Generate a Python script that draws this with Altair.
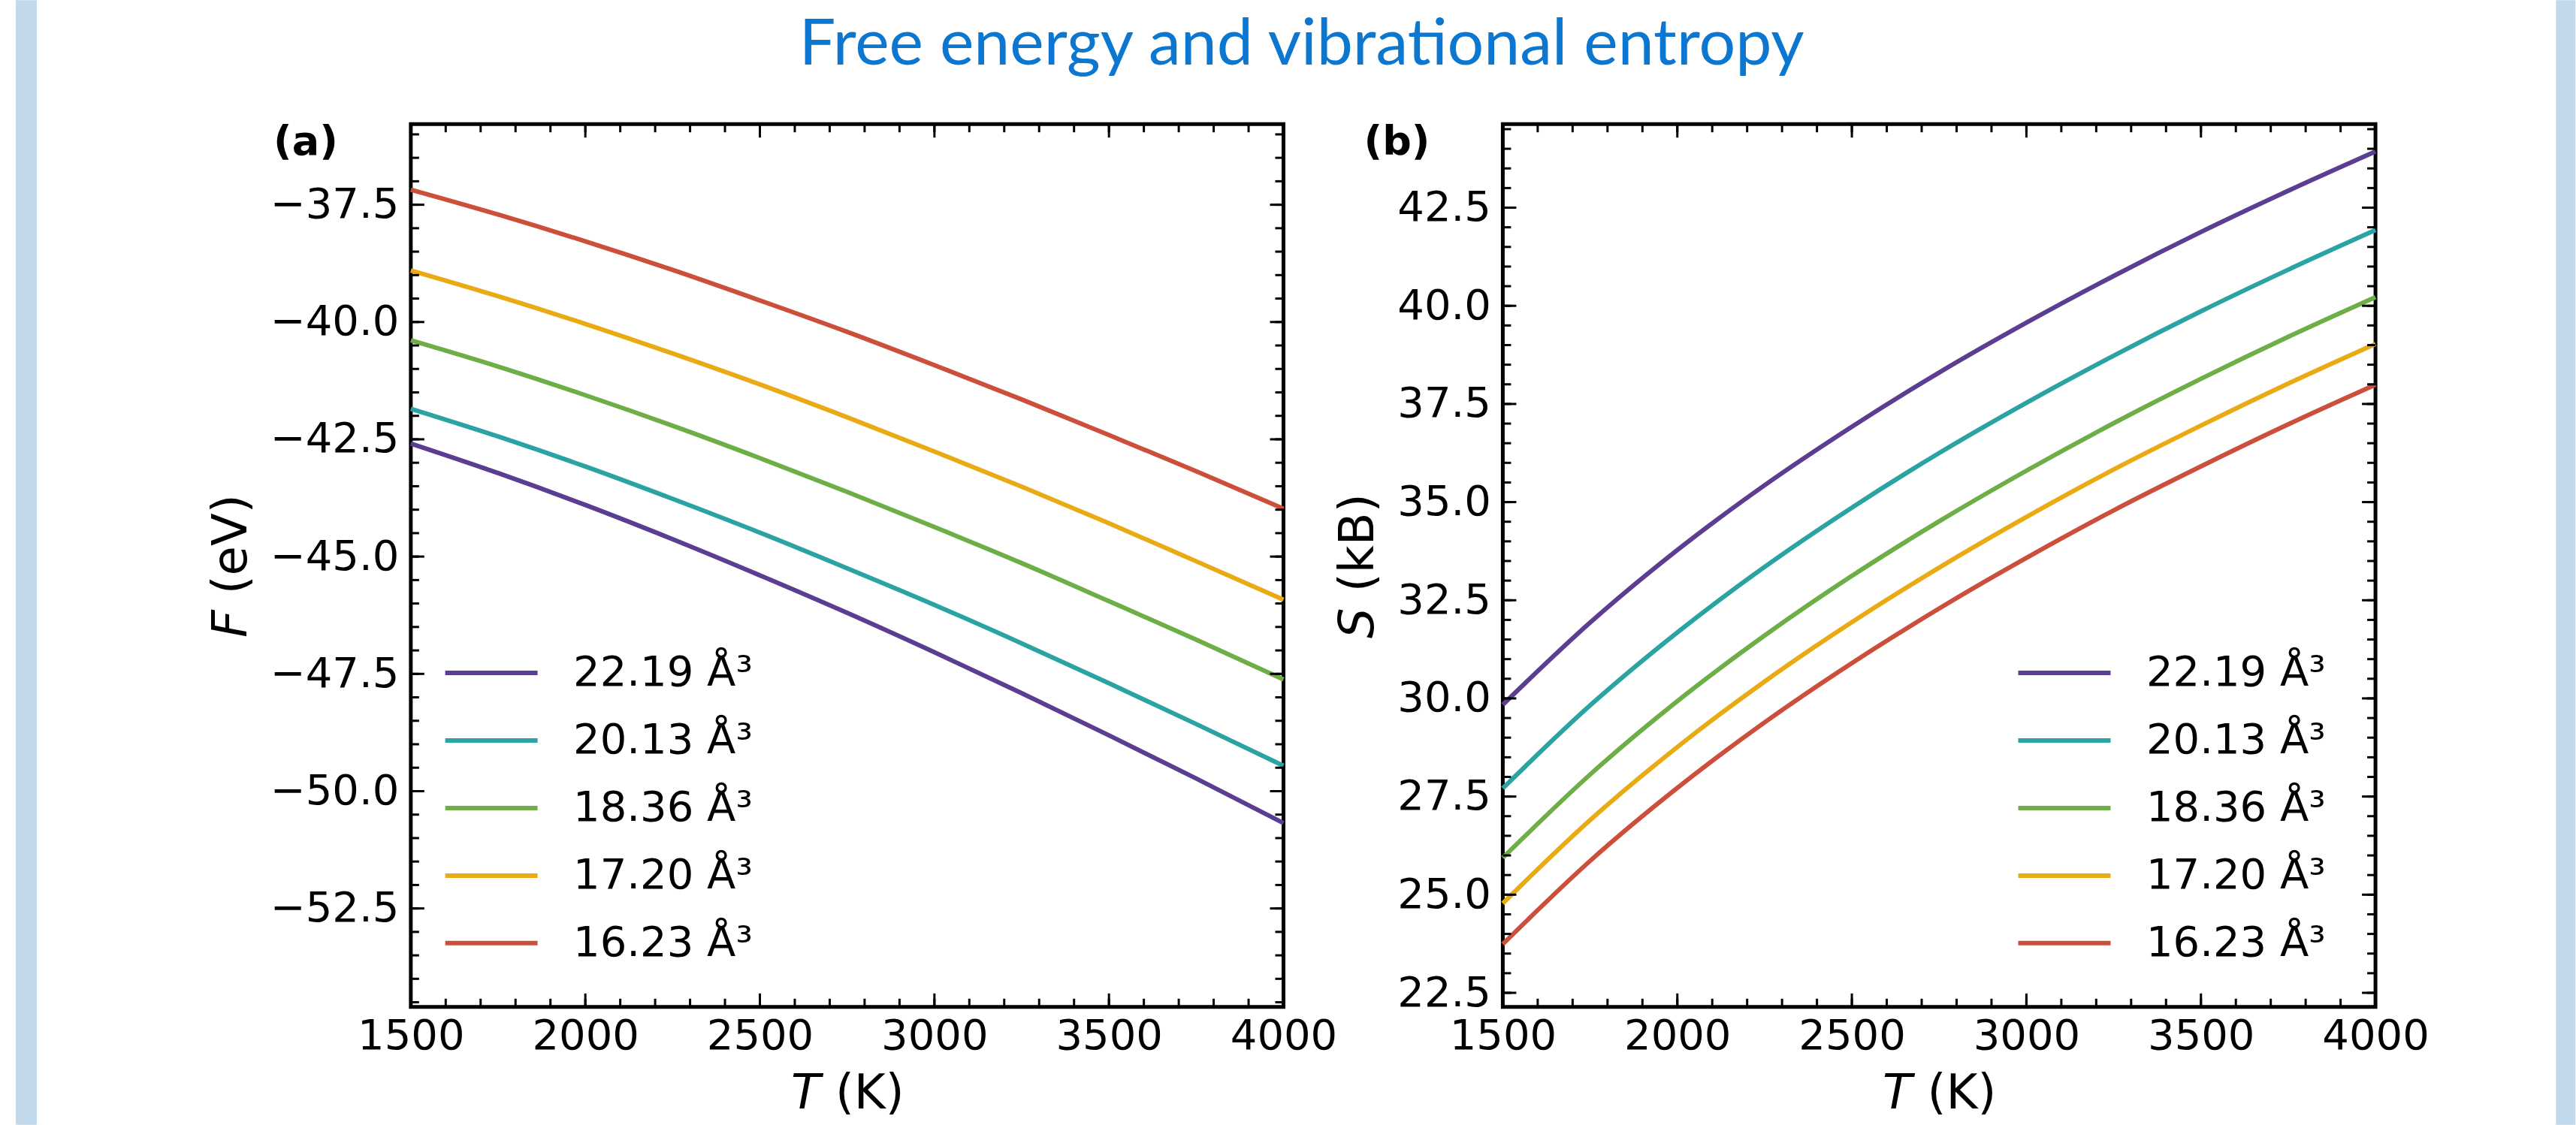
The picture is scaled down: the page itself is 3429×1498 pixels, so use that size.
import altair as alt
import pandas as pd

# ---------------- data ----------------
T = [1500, 1750, 2000, 2250, 2500, 2750, 3000, 3250, 3500, 3750, 4000]
volumes = ["22.19 Å³", "20.13 Å³", "18.36 Å³", "17.20 Å³", "16.23 Å³"]
colors = ["#5b3d92", "#2ba3a3", "#6dae47", "#e9aa14", "#cc4f3b"]

F_2219 = [-42.59, -43.22, -43.90, -44.63, -45.40, -46.20, -47.04, -47.91, -48.81, -49.73, -50.68]
F_2013 = [-41.85, -42.44, -43.08, -43.77, -44.49, -45.25, -46.03, -46.85, -47.70, -48.57, -49.46]
F_1836 = [-40.39, -40.95, -41.56, -42.21, -42.90, -43.62, -44.37, -45.14, -45.95, -46.77, -47.62]
F_1720 = [-38.90, -39.45, -40.04, -40.67, -41.33, -42.03, -42.76, -43.51, -44.29, -45.10, -45.92]
F_1623 = [-37.18, -37.71, -38.28, -38.89, -39.54, -40.21, -40.92, -41.65, -42.41, -43.18, -43.98]

S_2219 = [29.84, 31.93, 33.78, 35.43, 36.92, 38.30, 39.57, 40.76, 41.88, 42.93, 43.93]
S_2013 = [27.71, 29.82, 31.68, 33.35, 34.86, 36.25, 37.53, 38.73, 39.86, 40.92, 41.93]
S_1836 = [25.94, 28.06, 29.93, 31.60, 33.12, 34.51, 35.80, 37.01, 38.14, 39.21, 40.22]
S_1720 = [24.78, 26.90, 28.76, 30.43, 31.94, 33.33, 34.62, 35.83, 36.95, 38.02, 39.03]
S_1623 = [23.74, 25.86, 27.72, 29.39, 30.90, 32.29, 33.58, 34.79, 35.91, 36.98, 37.99]

F_series = [F_2219, F_2013, F_1836, F_1720, F_1623]
S_series = [S_2219, S_2013, S_1836, S_1720, S_1623]

x_major = [1500, 2000, 2500, 3000, 3500, 4000]
x_minor = [1500 + 100 * i for i in range(26)]
F_major = [-52.5, -50.0, -47.5, -45.0, -42.5, -40.0, -37.5]
F_minor = [-54.5 + 0.5 * i for i in range(38)]
S_major = [22.5, 25.0, 27.5, 30.0, 32.5, 35.0, 37.5, 40.0, 42.5]
S_minor = [22.5 + 0.5 * i for i in range(45)]

F_domain = [-54.6, -35.78]
S_domain = [22.14, 44.63]
T_domain = [1500, 4000]

title_text = "Free energy and vibrational entropy"

# ---------------- tables ----------------
rows = []
for vol, fs, ss in zip(volumes, F_series, S_series):
    for t, f, s in zip(T, fs, ss):
        rows.append({"vol": vol, "T": t, "F": f, "S": s})
df = pd.DataFrame(rows)

W = 1162
H = 1176
MAJ = 18
MIN = 11
LABEL_FS = 56
TITLE_FS = 64
BLUE_STRIP = "#c1d9ea"


def panel(field, ydomain, ymajor, yminor, ytitle, tag, legend_x):
    xs = alt.Scale(domain=T_domain, nice=False, zero=False)
    ys = alt.Scale(domain=ydomain, nice=False, zero=False)

    lines = alt.Chart(df).mark_line(strokeWidth=6, interpolate="monotone").encode(
        x=alt.X("T:Q", scale=xs, axis=alt.Axis(
            values=x_major, format="d", ticks=False, tickSize=0, domain=False, grid=False,
            labelFontSize=LABEL_FS, labelPadding=12, labelFlush=False, labelOverlap=False,
            labelColor="black", title="\U0001D61B (K)", titleFontSize=TITLE_FS,
            titleFontWeight="normal", titleColor="black", titlePadding=17)),
        y=alt.Y(f"{field}:Q", scale=ys, axis=alt.Axis(
            values=ymajor, format=".1f", ticks=False, tickSize=0, domain=False, grid=False,
            labelFontSize=LABEL_FS, labelPadding=16, labelFlush=False, labelOverlap=False,
            labelColor="black", title=ytitle, titleFontSize=TITLE_FS,
            titleFontWeight="normal", titleColor="black", titlePadding=19)),
        color=alt.Color("vol:N", scale=alt.Scale(domain=volumes, range=colors),
                        legend=alt.Legend(
                            title=None, orient="none", legendX=legend_x, legendY=703,
                            symbolType="M-6,0H6", symbolSize=420, symbolStrokeWidth=6,
                            labelFontSize=LABEL_FS, labelOffset=81, labelLimit=600,
                            labelColor="black", rowPadding=34, padding=0)),
        order=alt.Order("T:Q"),
    )

    xmaj = pd.DataFrame({"t": x_major})
    xmin = pd.DataFrame({"t": x_minor})
    ymaj = pd.DataFrame({"v": ymajor})
    ymin = pd.DataFrame({"v": yminor})

    def xticks(d, length):
        top = alt.Chart(d).mark_rule(color="black", strokeWidth=3).encode(
            x=alt.X("t:Q", scale=xs, axis=None), y=alt.value(0), y2=alt.value(length))
        bot = alt.Chart(d).mark_rule(color="black", strokeWidth=3).encode(
            x=alt.X("t:Q", scale=xs, axis=None), y=alt.value(H), y2=alt.value(H - length))
        return [top, bot]

    def yticks(d, length):
        left = alt.Chart(d).mark_rule(color="black", strokeWidth=3).encode(
            y=alt.Y("v:Q", scale=ys, axis=None), x=alt.value(0), x2=alt.value(length))
        right = alt.Chart(d).mark_rule(color="black", strokeWidth=3).encode(
            y=alt.Y("v:Q", scale=ys, axis=None), x=alt.value(W), x2=alt.value(W - length))
        return [left, right]

    tag_layer = alt.Chart(alt.Data(values=[{"tag": tag}])).mark_text(
        font="DejaVu Sans", fontWeight="bold", fontSize=54, align="right", baseline="top",
        color="black").encode(text="tag:N", x=alt.value(-97), y=alt.value(-2))

    layers = [lines] + xticks(xmin, MIN) + xticks(xmaj, MAJ) + yticks(ymin, MIN) + yticks(ymaj, MAJ) + [tag_layer]
    return alt.layer(*layers).resolve_axis(x="independent", y="independent").properties(
        width=W, height=H, view=alt.ViewBackground(stroke="black", strokeWidth=5))


panel_a = panel("F", F_domain, F_major, F_minor, "\U0001D60D (eV)", "(a)", 79.3)
panel_b = panel("S", S_domain, S_major, S_minor, "\U0001D61A (kB)", "(b)", 719.8)


def strip(width, x0, x1):
    return alt.Chart(alt.Data(values=[{"k": 1}])).mark_rect(color=BLUE_STRIP).encode(
        x=alt.value(x0), x2=alt.value(x1), y=alt.value(-165), y2=alt.value(1333)
    ).properties(width=width, height=H, view=alt.ViewBackground(strokeOpacity=0))


strip_left = strip(525.7, 0, 28)
gap = alt.Chart(alt.Data(values=[{"k": 1}])).mark_rect(opacity=0).encode(
    x=alt.value(0), x2=alt.value(1), y=alt.value(0), y2=alt.value(1)
).properties(width=292, height=H, view=alt.ViewBackground(strokeOpacity=0))
strip_right = strip(266.3, 240.3, 266.3)

chart = alt.hconcat(
    strip_left, panel_a, gap, panel_b, strip_right, spacing=0, bounds="flush"
).resolve_legend(color="independent").properties(
    title=alt.TitleParams(title_text, font="Lato", fontSize=86, fontWeight="normal",
                          color="#0b77d0", anchor="middle", offset=-104, dx=8),
    padding={"left": 21, "top": 0, "right": 0, "bottom": 0},
).configure(font="DejaVu Sans").configure_view(stroke="black", strokeWidth=5)

chart.save("out.html", embed_options={"renderer": "svg", "actions": False})
